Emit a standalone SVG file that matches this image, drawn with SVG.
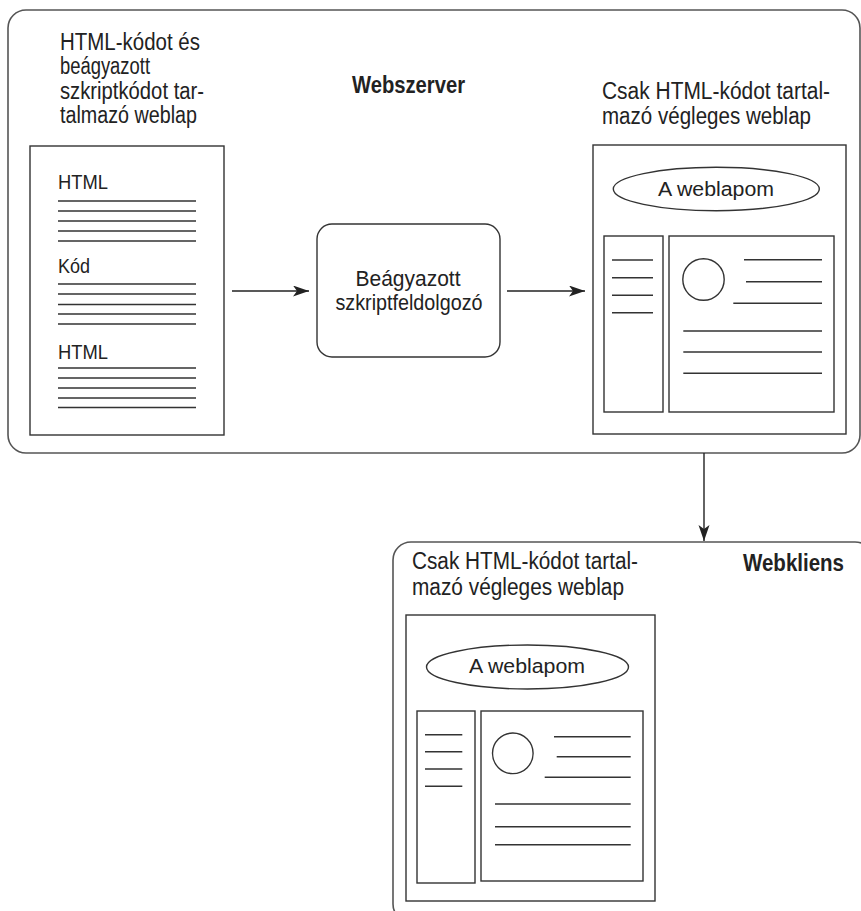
<svg xmlns="http://www.w3.org/2000/svg" width="861" height="911" viewBox="0 0 861 911">
<defs>
<style>
.frame{fill:none;stroke:#555;stroke-width:1.6}
.box{fill:#fff;stroke:#333;stroke-width:1.4}
.ln{stroke:#333;stroke-width:1.4;fill:none}
.t{font-family:"Liberation Sans",Arial,sans-serif;fill:#222}
.h{font-size:23.5px}
.s{font-size:20.5px}
.b{font-size:23.5px;font-weight:bold}
.m{font-size:22px}
.conn{stroke:#222;stroke-width:1.4;fill:none}
</style>
<marker id="arr" markerUnits="userSpaceOnUse" markerWidth="17" markerHeight="12" refX="16" refY="5.5" orient="auto">
<path d="M0,0 L16,5.5 L0,11 L4,5.5 z" fill="#222"/>
</marker>
</defs>
<rect width="861" height="911" fill="#fff"/>

<g id="webszerver">
<rect class="frame" x="8" y="10" width="852" height="443" rx="18"/>
<text class="t b" x="352" y="93" textLength="113" lengthAdjust="spacingAndGlyphs">Webszerver</text>
</g>

<g id="source-page">
<text class="t h" x="60" y="50" textLength="140" lengthAdjust="spacingAndGlyphs">HTML-kódot és</text>
<text class="t h" x="60" y="74" textLength="90" lengthAdjust="spacingAndGlyphs">beágyazott</text>
<text class="t h" x="60" y="98.5" textLength="144" lengthAdjust="spacingAndGlyphs">szkriptkódot tar-</text>
<text class="t h" x="60" y="123" textLength="137" lengthAdjust="spacingAndGlyphs">talmazó weblap</text>
<rect class="box" x="30" y="146" width="194" height="289"/>
<text class="t s" x="58" y="189" textLength="50" lengthAdjust="spacingAndGlyphs">HTML</text>
<path class="ln" d="M58,201H196M58,211H196M58,221H196M58,231H196M58,241H196"/>
<text class="t s" x="58" y="273" textLength="32" lengthAdjust="spacingAndGlyphs">Kód</text>
<path class="ln" d="M58,284H196M58,294H196M58,304.5H196M58,314H196M58,324H196"/>
<text class="t s" x="58" y="359" textLength="50" lengthAdjust="spacingAndGlyphs">HTML</text>
<path class="ln" d="M58,368H196M58,378H196M58,388H196M58,398H196M58,407.5H196"/>
</g>

<g id="processor">
<rect class="box" x="317" y="224" width="183" height="133" rx="15"/>
<text class="t m" x="408" y="286" text-anchor="middle" textLength="105" lengthAdjust="spacingAndGlyphs">Beágyazott</text>
<text class="t m" x="409" y="310" text-anchor="middle" textLength="147" lengthAdjust="spacingAndGlyphs">szkriptfeldolgozó</text>
</g>

<g id="result-page">
<text class="t h" x="602" y="99" textLength="228" lengthAdjust="spacingAndGlyphs">Csak HTML-kódot tartal-</text>
<text class="t h" x="602" y="124" textLength="209" lengthAdjust="spacingAndGlyphs">mazó végleges weblap</text>
<rect class="box" x="593" y="145" width="253" height="289"/>
<ellipse class="ln" cx="716.3" cy="189" rx="103" ry="21.7"/>
<text class="t s" x="716" y="196" text-anchor="middle" textLength="116" lengthAdjust="spacingAndGlyphs">A weblapom</text>
<rect class="ln" x="604" y="236" width="59" height="176"/>
<rect class="ln" x="669" y="236" width="165" height="176"/>
<path class="ln" d="M612,260H653M612,277.7H653M612,295.3H653M612,312.7H653"/>
<circle class="ln" cx="703.5" cy="279.5" r="20.7"/>
<path class="ln" d="M744,259.7H822M746,281.7H822M733.3,303.3H822M683.3,331H822M683.3,352H822M683.3,373.3H822"/>
</g>

<g id="webkliens">
<rect class="frame" x="393" y="542" width="480" height="380" rx="18"/>
<text class="t b" x="743" y="571" textLength="101" lengthAdjust="spacingAndGlyphs">Webkliens</text>
</g>

<g id="client-page">
<text class="t h" x="412" y="569" textLength="226" lengthAdjust="spacingAndGlyphs">Csak HTML-kódot tartal-</text>
<text class="t h" x="412" y="595" textLength="212" lengthAdjust="spacingAndGlyphs">mazó végleges weblap</text>
<rect class="box" x="406" y="615" width="249" height="286"/>
<ellipse class="ln" cx="527.5" cy="667" rx="101" ry="22"/>
<text class="t s" x="527" y="673" text-anchor="middle" textLength="116" lengthAdjust="spacingAndGlyphs">A weblapom</text>
<rect class="ln" x="417" y="711" width="58" height="172"/>
<rect class="ln" x="481" y="711" width="162" height="170"/>
<path class="ln" d="M425,734.7H462.3M425,751.7H462.3M425,769H462.3M425,786.3H462.3"/>
<circle class="ln" cx="512.8" cy="753.3" r="20.3"/>
<path class="ln" d="M554,736.7H630.7M556.7,756.7H630.7M544.7,777.3H630.7M495,804H630.7M495,826.7H630.7M495,844.7H630.7"/>
</g>

<g id="connectors">
<line class="conn" x1="232" y1="291" x2="309" y2="291" marker-end="url(#arr)"/>
<line class="conn" x1="507" y1="291" x2="585" y2="291" marker-end="url(#arr)"/>
<line class="conn" x1="704" y1="453" x2="704" y2="541" marker-end="url(#arr)"/>
</g>
</svg>
